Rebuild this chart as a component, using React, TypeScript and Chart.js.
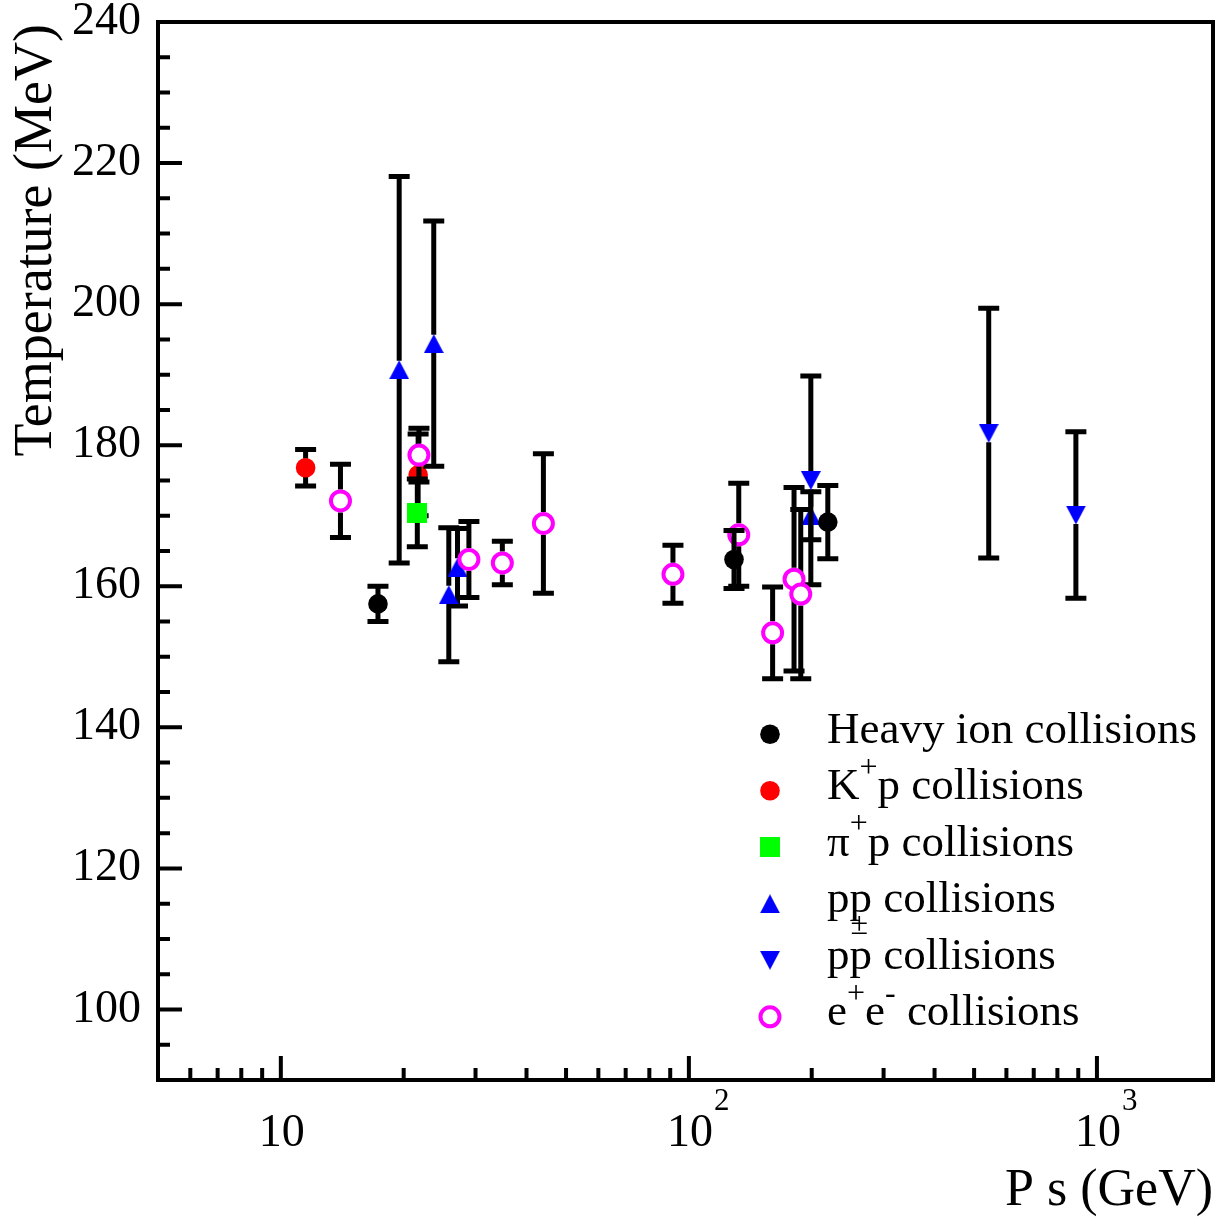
import React, { useEffect, useRef } from 'react';
import { Chart, registerables } from 'chart.js';

Chart.register(...registerables);

// ---------- data ----------
const heavyIonX = [17.3, 129, 219];
const heavyIonY = [157.5, 163.8, 169.1];
const heavyIonErr = [2.5, 4.1, 5.2];

const kPlusPX = [11.5, 21.7];
const kPlusPY = [176.8, 175.8];
const kPlusPErr = [2.6, 5.8];

const piPlusPX = [21.6];
const piPlusPY = [170.4];
const piPlusPErr = [4.8];

const ppX = [19.5, 23.7, 25.8, 27.1, 199];
const ppY = [190.7, 194.4, 158.8, 162.7, 170.0];
const ppErr = [27.4, 17.4, 9.5, 5.5, 3.4];

const ppbarX = [199, 543, 888];
const ppbarY = [175.0, 181.7, 170.1];
const ppbarErr = [14.8, 17.7, 11.8];

const eeX = [14.0, 21.8, 28.9, 34.9, 44.0, 91.4, 132.5, 160.4, 181, 188];
const eeY = [172.1, 178.6, 163.8, 163.3, 168.9, 161.7, 167.3, 153.4, 161.0, 158.9];
const eeErr = [5.2, 3.8, 5.4, 3.1, 9.9, 4.1, 7.3, 6.5, 13.0, 12.0];

const yTickValues = [100, 120, 140, 160, 180, 200, 220, 240];
const yMinorTickValues = [95, 105, 110, 115, 125, 130, 135, 145, 150, 155, 165, 170, 175, 185, 190, 195, 205, 210, 215, 225, 230, 235];
const xTickValues = [10, 100, 1000];
const xTickBase = ['10', '10', '10'];
const xTickExp = ['', '2', '3'];
const xMinorTickValues = [6, 7, 8, 9, 20, 30, 40, 50, 60, 70, 80, 90, 200, 300, 400, 500, 600, 700, 800, 900];

const xTitle = 'P s (GeV)';
const yTitle = 'Temperature (MeV)';

// legend labels: [text, kind] kind: n = normal, sup = superscript, sub = under-mark (no advance)
const heavyIonLabel: [string, string][] = [['Heavy ion collisions', 'n']];
const kPlusPLabel: [string, string][] = [['K', 'n'], ['+', 'sup'], ['p collisions', 'n']];
const piPlusPLabel: [string, string][] = [['π', 'n'], ['+', 'sup'], ['p collisions', 'n']];
const ppLabel: [string, string][] = [['p', 'n'], ['±', 'sub'], ['p collisions', 'n']];
const ppbarLabel: [string, string][] = [['pp collisions', 'n']];
const eeLabel: [string, string][] = [['e', 'n'], ['+', 'sup'], ['e', 'n'], ['-', 'sup'], [' collisions', 'n']];

const FONT = '"Liberation Serif", "Times New Roman", serif';

function makeTriangle(up: boolean, color: string) {
  const c = document.createElement('canvas');
  c.width = 20;
  c.height = 19;
  const g = c.getContext('2d')!;
  g.fillStyle = color;
  g.beginPath();
  if (up) {
    g.moveTo(10, 0); g.lineTo(20, 19); g.lineTo(0, 19);
  } else {
    g.moveTo(0, 0); g.lineTo(20, 0); g.lineTo(10, 19);
  }
  g.closePath();
  g.fill();
  return c;
}

function makeSquare(color: string) {
  const c = document.createElement('canvas');
  c.width = 20;
  c.height = 20;
  const g = c.getContext('2d')!;
  g.fillStyle = color;
  g.fillRect(0, 0, 20, 20);
  return c;
}

export default function App() {
  const ref = useRef<HTMLCanvasElement>(null);

  useEffect(() => {
    document.body.style.margin = '0';
    const canvas = ref.current!;
    const triUp = makeTriangle(true, '#0000ff');
    const triDown = makeTriangle(false, '#0000ff');
    const square = makeSquare('#00ff00');

    const toPts = (xs: number[], ys: number[]) => xs.map((x, i) => ({ x, y: ys[i] }));

    const datasets: any[] = [
      {
        label: 'Heavy ion collisions', data: toPts(heavyIonX, heavyIonY), errors: heavyIonErr, errGap: 9,
        pointStyle: 'circle', pointRadius: 9.8, backgroundColor: '#000000', borderColor: '#000000', borderWidth: 0, order: 1,
      },
      {
        label: 'K+p collisions', data: toPts(kPlusPX, kPlusPY), errors: kPlusPErr, errGap: 9,
        pointStyle: 'circle', pointRadius: 9.8, backgroundColor: '#ff0000', borderColor: '#ff0000', borderWidth: 0, order: 6,
      },
      {
        label: 'pi+p collisions', data: toPts(piPlusPX, piPlusPY), errors: piPlusPErr, errGap: 9,
        pointStyle: square, pointRadius: 10, backgroundColor: '#00ff00', borderColor: '#00ff00', borderWidth: 0, order: 5,
      },
      {
        label: 'pp collisions', data: toPts(ppX, ppY), errors: ppErr, errGap: 9,
        pointStyle: triUp, pointRadius: 10, backgroundColor: '#0000ff', borderColor: '#0000ff', borderWidth: 0, order: 4,
      },
      {
        label: 'ppbar collisions', data: toPts(ppbarX, ppbarY), errors: ppbarErr, errGap: 9,
        pointStyle: triDown, pointRadius: 10, backgroundColor: '#0000ff', borderColor: '#0000ff', borderWidth: 0, order: 3,
      },
      {
        label: 'e+e- collisions', data: toPts(eeX, eeY), errors: eeErr, errGap: 11.5,
        pointStyle: 'circle', pointRadius: 9.5, backgroundColor: '#ffffff', borderColor: '#ff00ff', borderWidth: 4, order: 2,
      },
    ];

    const legendEntries = [
      { kind: 'circle', color: '#000000', segs: heavyIonLabel },
      { kind: 'circle', color: '#ff0000', segs: kPlusPLabel },
      { kind: 'image', img: square, segs: piPlusPLabel },
      { kind: 'image', img: triUp, segs: ppLabel },
      { kind: 'image', img: triDown, segs: ppbarLabel },
      { kind: 'open', color: '#ff00ff', segs: eeLabel },
    ];

    const rootPlugin = {
      id: 'rootStyle',
      beforeDraw(chart: any) {
        const ctx = chart.ctx;
        ctx.save();
        ctx.fillStyle = '#ffffff';
        ctx.fillRect(0, 0, chart.width, chart.height);
        ctx.restore();
      },
      beforeDatasetDraw(chart: any, args: any) {
        const ds = chart.data.datasets[args.index];
        const ys = chart.scales.y;
        const ctx = chart.ctx;
        ctx.save();
        ctx.strokeStyle = '#000000';
        ctx.lineWidth = 5;
        ctx.lineCap = 'butt';
        args.meta.data.forEach((el: any, i: number) => {
          const v = ds.data[i].y;
          const e = ds.errors[i];
          const px = el.x;
          const py = el.y;
          const top = ys.getPixelForValue(v + e);
          const bot = ys.getPixelForValue(v - e);
          const gap = ds.errGap;
          ctx.beginPath();
          if (py - gap > top) { ctx.moveTo(px, top); ctx.lineTo(px, py - gap); }
          if (py + gap < bot) { ctx.moveTo(px, py + gap); ctx.lineTo(px, bot); }
          ctx.moveTo(px - 10.5, top); ctx.lineTo(px + 10.5, top);
          ctx.moveTo(px - 10.5, bot); ctx.lineTo(px + 10.5, bot);
          ctx.stroke();
        });
        ctx.restore();
      },
      afterDraw(chart: any) {
        const ctx = chart.ctx;
        const { left, right, top, bottom } = chart.chartArea;
        const xs = chart.scales.x;
        const ys = chart.scales.y;
        ctx.save();
        ctx.strokeStyle = '#000000';
        ctx.fillStyle = '#000000';
        ctx.lineCap = 'butt';
        // ticks
        ctx.lineWidth = 4;
        ctx.beginPath();
        yTickValues.forEach((v) => {
          const p = ys.getPixelForValue(v);
          ctx.moveTo(left, p); ctx.lineTo(left + 24, p);
        });
        yMinorTickValues.forEach((v) => {
          const p = ys.getPixelForValue(v);
          ctx.moveTo(left, p); ctx.lineTo(left + 12, p);
        });
        xTickValues.forEach((v) => {
          const p = xs.getPixelForValue(v);
          ctx.moveTo(p, bottom); ctx.lineTo(p, bottom - 24);
        });
        xMinorTickValues.forEach((v) => {
          const p = xs.getPixelForValue(v);
          ctx.moveTo(p, bottom); ctx.lineTo(p, bottom - 12);
        });
        ctx.stroke();
        // frame
        ctx.lineWidth = 4;
        ctx.strokeRect(left, top, right - left, bottom - top);

        // x tick labels
        ctx.textBaseline = 'alphabetic';
        xTickValues.forEach((v, i) => {
          const p = xs.getPixelForValue(v);
          ctx.font = `46px ${FONT}`;
          ctx.textAlign = 'center';
          ctx.fillText(xTickBase[i], p + 1, 1146);
          const w = ctx.measureText(xTickBase[i]).width;
          if (xTickExp[i]) {
            ctx.font = `31px ${FONT}`;
            ctx.textAlign = 'left';
            ctx.fillText(xTickExp[i], p + 1 + w / 2 + 1, 1110);
          }
        });

        // axis titles
        ctx.font = `52px ${FONT}`;
        ctx.textAlign = 'right';
        ctx.fillText(xTitle, right, 1205);
        ctx.save();
        ctx.font = `54px ${FONT}`;
        ctx.translate(51, top + 2);
        ctx.rotate(-Math.PI / 2);
        ctx.textAlign = 'right';
        ctx.fillText(yTitle, 0, 0);
        ctx.restore();

        // legend
        const mx = 770;
        const tx = 827;
        const y0 = 734.3;
        const dy = 56.5;
        legendEntries.forEach((en: any, r: number) => {
          const cy = y0 + r * dy;
          if (en.kind === 'circle') {
            ctx.beginPath();
            ctx.fillStyle = en.color;
            ctx.arc(mx, cy, 9.8, 0, Math.PI * 2);
            ctx.fill();
          } else if (en.kind === 'open') {
            ctx.beginPath();
            ctx.fillStyle = '#ffffff';
            ctx.strokeStyle = en.color;
            ctx.lineWidth = 4;
            ctx.arc(mx, cy, 9.5, 0, Math.PI * 2);
            ctx.fill();
            ctx.stroke();
          } else {
            ctx.drawImage(en.img, mx - en.img.width / 2, cy - en.img.height / 2);
          }
          ctx.fillStyle = '#000000';
          ctx.textAlign = 'left';
          let x = tx;
          const base = cy + 8.5;
          en.segs.forEach(([t, kind]: [string, string]) => {
            if (kind === 'n') {
              ctx.font = `45px ${FONT}`;
              ctx.fillText(t, x, base);
              x += ctx.measureText(t).width;
            } else if (kind === 'sup') {
              ctx.font = `32px ${FONT}`;
              ctx.fillText(t, x, base - 22.5);
              x += ctx.measureText(t).width;
            } else {
              ctx.font = `32px ${FONT}`;
              ctx.fillText(t, x + 1, base + 22);
            }
          });
        });
        ctx.restore();
      },
    };

    const chart = new Chart(canvas, {
      type: 'scatter',
      data: { datasets },
      plugins: [rootPlugin],
      options: {
        responsive: false,
        animation: false,
        events: [],
        layout: { autoPadding: false, padding: { top: 22, right: 5, left: 0, bottom: 0 } },
        plugins: { legend: { display: false }, tooltip: { enabled: false } },
        scales: {
          x: {
            type: 'logarithmic',
            min: 5,
            max: 1925,
            grid: { display: false, drawTicks: false, tickLength: 0 },
            border: { display: false },
            ticks: { display: false },
            afterBuildTicks: (scale: any) => {
              scale.ticks = xTickValues.map((v) => ({ value: v }));
            },
            afterFit: (scale: any) => {
              scale.height = 141;
              scale.paddingLeft = 0;
              scale.paddingRight = 0;
            },
          },
          y: {
            type: 'linear',
            min: 90,
            max: 240,
            grid: { display: false, drawTicks: false, tickLength: 0 },
            border: { display: false },
            ticks: {
              color: '#000000',
              padding: 17,
              font: { family: '"Liberation Serif", "Times New Roman", serif', size: 46 },
            },
            afterBuildTicks: (scale: any) => {
              scale.ticks = yTickValues.map((v) => ({ value: v }));
            },
            afterFit: (scale: any) => {
              scale.width = 158;
              scale.paddingTop = 0;
              scale.paddingBottom = 0;
            },
          },
        },
      } as any,
    });
    return () => chart.destroy();
  }, []);

  return (
    <div style={{ width: 1218, height: 1221 }}>
      <canvas ref={ref} width={1218} height={1221} style={{ display: 'block', width: 1218, height: 1221 }} />
    </div>
  );
}
